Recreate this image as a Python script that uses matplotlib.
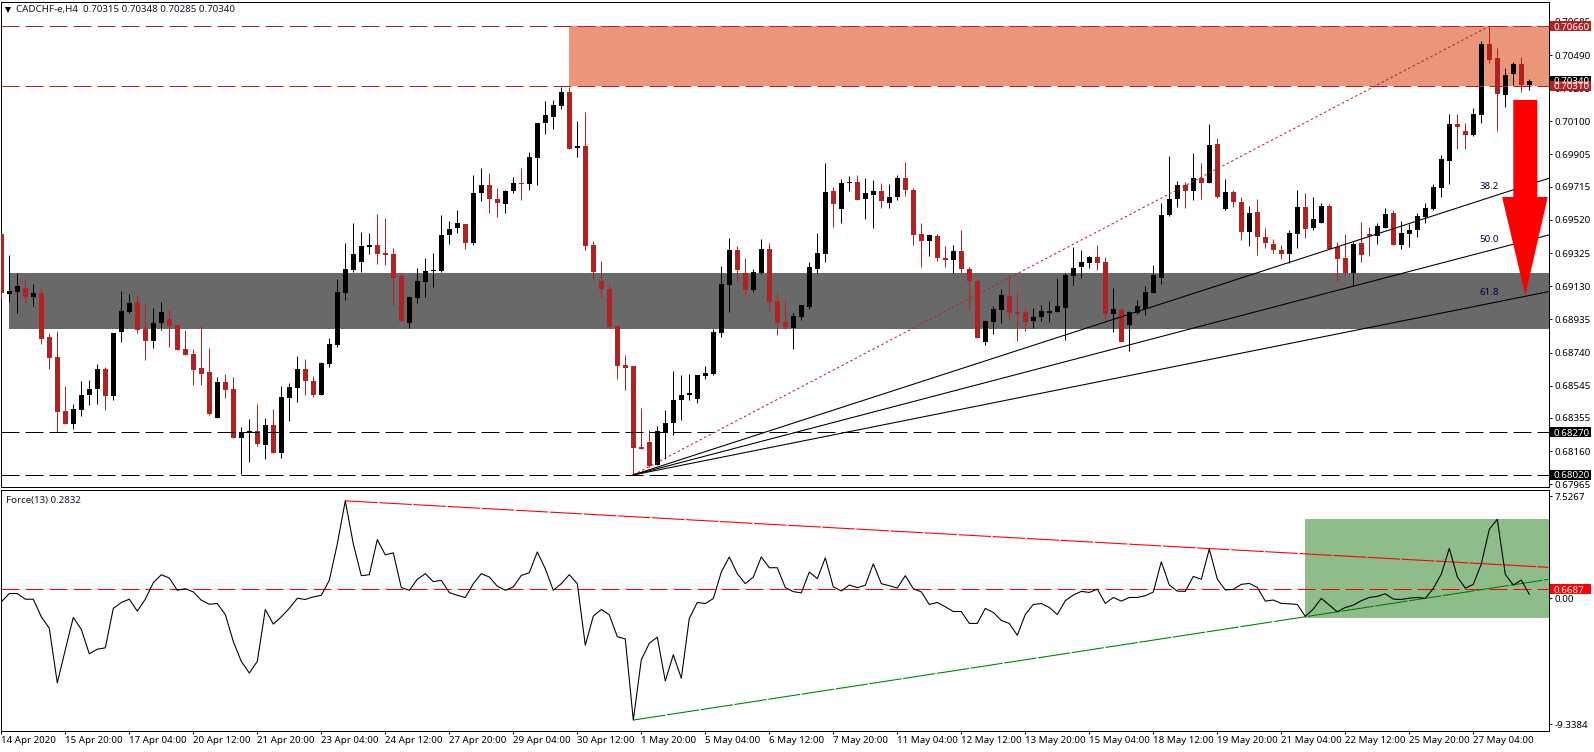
import numpy as np
import matplotlib
matplotlib.use("Agg")
import matplotlib.pyplot as plt
from matplotlib.patches import Rectangle

plt.rcParams['font.family'] = ['Noto Sans', 'DejaVu Sans']

# prices are written in points (1e-5), one entry per H4 bar
opens = [
    69438, 69087, 69098, 69120, 69069, 69091, 68832, 68714, 68397, 68322,
    68404, 68492, 68528, 68644, 68486, 68863, 68981, 69038, 68879, 68810,
    68916, 68938, 68902, 68761, 68732, 68649, 68626, 68357, 68567, 68526,
    68240, 68271, 68279, 68198, 68314, 68151, 68475, 68534, 68644, 68573,
    68492, 68675, 68787, 69092, 69228, 69275, 69363, 69373, 69326, 69320,
    69192, 68914, 69061, 69155, 69218, 69220, 69432, 69473, 69496, 69385,
    69679, 69726, 69644, 69614, 69691, 69738, 69732, 69885, 70091, 70126,
    70191, 70273, 69943, 69955, 69373, 69161, 69114, 68896, 68667, 68661,
    68185, 68214, 68079, 68269, 68326, 68461, 68491, 68467, 68602, 68614,
    68855, 69138, 69344, 69208, 69108, 69208, 69349, 69043, 68922, 68885,
    68949, 69008, 69232, 69320, 69691, 69585, 69738, 69743, 69644, 69667,
    69691, 69620, 69655, 69767, 69696, 69438, 69396, 69426, 69296, 69285,
    69338, 69232, 69161, 68802, 68920, 68991, 69073, 68979, 68979, 68926,
    68949, 68973, 68979, 69002, 69191, 69243, 69267, 69302, 69273, 68967,
    68991, 68902, 68973, 68996, 69091, 69181, 69549, 69644, 69726, 69691,
    69767, 69738, 69967, 69585, 69685, 69626, 69449, 69567, 69420, 69379,
    69344, 69320, 69438, 69596, 69473, 69502, 69602, 69361, 69296, 69208,
    69385, 69438, 69426, 69473, 69561, 69373, 69438, 69461, 69538, 69585,
    69708, 69867, 70085, 70043, 70020, 70138, 70555, 70473, 70255, 70379,
    70438, 70315,
]
highs = [
    69444, 69314, 69210, 69171, 69144, 69118, 68855, 68867, 68544, 68438,
    68573, 68579, 68673, 68655, 68855, 69102, 69085, 69079, 69026, 69002,
    69038, 68996, 68902, 68873, 68761, 68902, 68767, 68596, 68614, 68596,
    68302, 68349, 68438, 68355, 68408, 68544, 68561, 68720, 68702, 68602,
    68685, 68826, 69173, 69385, 69502, 69449, 69444, 69555, 69532, 69355,
    69206, 69073, 69238, 69296, 69326, 69549, 69514, 69579, 69496, 69785,
    69826, 69796, 69708, 69696, 69773, 69826, 69920, 70091, 70220, 70226,
    70302, 70302, 70102, 70155, 69396, 69279, 69144, 68902, 68726, 68661,
    68414, 68285, 68308, 68402, 68632, 68608, 68614, 68608, 68661, 68879,
    69249, 69414, 69367, 69296, 69232, 69408, 69385, 69096, 69049, 68973,
    69020, 69273, 69444, 69855, 69714, 69761, 69779, 69785, 69767, 69755,
    69738, 69732, 69785, 69861, 69708, 69502, 69438, 69438, 69367, 69373,
    69461, 69243, 69167, 68932, 69014, 69114, 69196, 69096, 69002, 69002,
    69020, 69043, 69179, 69208, 69361, 69344, 69308, 69373, 69302, 69120,
    69002, 68985, 69049, 69132, 69255, 69620, 69896, 69749, 69743, 69914,
    69855, 70085, 70002, 69761, 69696, 69655, 69602, 69644, 69473, 69408,
    69373, 69461, 69696, 69679, 69655, 69620, 69614, 69390, 69438, 69391,
    69508, 69479, 69502, 69591, 69579, 69514, 69496, 69561, 69620, 69732,
    69902, 70143, 70143, 70091, 70179, 70573, 70660, 70532, 70414, 70449,
    70479, 70348,
]
lows = [
    69063, 69039, 68975, 69034, 69016, 68792, 68645, 68271, 68322, 68292,
    68369, 68434, 68439, 68404, 68463, 68804, 68973, 68857, 68698, 68769,
    68875, 68775, 68757, 68728, 68551, 68551, 68375, 68357, 68475, 68240,
    68028, 68098, 68192, 68116, 68151, 68122, 68340, 68451, 68492, 68481,
    68492, 68657, 68775, 69051, 69216, 69216, 69322, 69263, 69257, 69016,
    68926, 68885, 69032, 69067, 69126, 69214, 69379, 69444, 69349, 69373,
    69632, 69561, 69538, 69561, 69679, 69638, 69696, 69726, 70026, 70055,
    70173, 69938, 69891, 69344, 69173, 69061, 68886, 68586, 68520, 68022,
    68173, 68069, 68079, 68114, 68255, 68344, 68461, 68444, 68585, 68608,
    68832, 68979, 69155, 69079, 69096, 69202, 68985, 68845, 68881, 68761,
    68932, 68996, 69202, 69273, 69479, 69502, 69691, 69638, 69526, 69473,
    69591, 69591, 69638, 69661, 69373, 69243, 69308, 69279, 69243, 69208,
    69208, 68996, 68826, 68785, 68849, 68914, 68932, 68808, 68867, 68885,
    68926, 68920, 68979, 68814, 69138, 69179, 69238, 69226, 68920, 68861,
    68802, 68751, 68967, 68961, 69091, 69144, 69543, 69596, 69591, 69638,
    69644, 69738, 69649, 69579, 69596, 69402, 69367, 69314, 69355, 69326,
    69291, 69267, 69355, 69414, 69461, 69502, 69349, 69155, 69191, 69138,
    69273, 69308, 69379, 69473, 69373, 69349, 69361, 69420, 69502, 69579,
    69655, 69732, 69938, 69938, 70014, 70091, 70443, 70043, 70185, 70314,
    70273, 70285,
]
closes = [
    69092, 69102, 69132, 69069, 69091, 68822, 68710, 68392, 68322, 68408,
    68491, 68526, 68644, 68486, 68855, 68985, 69032, 68875, 68810, 68914,
    68979, 68898, 68757, 68728, 68639, 68616, 68381, 68567, 68522, 68240,
    68273, 68279, 68204, 68314, 68151, 68479, 68538, 68644, 68575, 68492,
    68679, 68791, 69096, 69232, 69320, 69367, 69373, 69322, 69316, 69181,
    68926, 69067, 69161, 69220, 69226, 69432, 69467, 69502, 69385, 69679,
    69726, 69644, 69620, 69691, 69738, 69732, 69891, 70091, 70138, 70196,
    70273, 69938, 69955, 69367, 69214, 69114, 68892, 68663, 68649, 68181,
    68173, 68073, 68279, 68326, 68461, 68491, 68502, 68608, 68620, 68861,
    69144, 69344, 69226, 69108, 69214, 69349, 69038, 68916, 68891, 68955,
    69020, 69243, 69326, 69685, 69614, 69738, 69743, 69638, 69679, 69691,
    69632, 69655, 69767, 69696, 69432, 69396, 69432, 69296, 69285, 69338,
    69232, 69161, 68826, 68926, 68996, 69079, 68973, 68967, 68920, 68949,
    68985, 68985, 69014, 69196, 69238, 69273, 69302, 69267, 68967, 68996,
    68802, 68979, 69014, 69096, 69196, 69549, 69644, 69726, 69691, 69767,
    69738, 69961, 69655, 69685, 69626, 69449, 69561, 69420, 69385, 69344,
    69320, 69444, 69596, 69467, 69526, 69602, 69349, 69291, 69208, 69379,
    69314, 69426, 69485, 69555, 69373, 69444, 69461, 69543, 69591, 69714,
    69879, 70085, 70067, 70020, 70143, 70555, 70461, 70261, 70373, 70438,
    70314, 70340,
]

# Force(13) indicator, one value per bar
force = [
    -0.28, 0.34, 0.34, -0.08, -0.08, -1.38, -2.23, -6.27, -3.82, -1.43,
    -2.31, -4.12, -3.78, -3.68, -0.76, -0.32, -0.08, -0.96, -0.08, 1.14,
    1.73, 1.49, 0.58, 0.70, 0.46, -0.15, -0.45, -0.40, -1.21, -3.21,
    -4.68, -5.54, -4.68, -0.84, -1.92, -1.38, -0.76, -0.01, -0.10, 0.09,
    0.21, 1.32, 4.01, 7.20, 4.01, 1.66, 1.73, 4.33, 3.20, 3.35,
    0.78, 0.58, 1.39, 1.81, 1.22, 1.32, 0.41, 0.21, 0.04, 1.07,
    1.81, 1.56, 0.88, 0.58, 0.83, 1.68, 1.88, 3.42, 2.17, 0.58,
    1.07, 1.73, 1.07, -3.48, -1.33, -0.84, -1.23, -2.85, -3.02, -9.02,
    -4.56, -3.34, -2.89, -6.13, -4.19, -5.93, -1.50, -0.32, -0.40, -0.03,
    1.93, 3.05, 1.81, 1.07, 1.56, 3.05, 2.25, 2.25, 0.78, 0.48,
    0.39, 1.93, 1.44, 2.98, 0.83, 0.53, 0.97, 0.78, 0.95, 2.54,
    1.07, 0.92, 0.75, 1.66, 0.70, 0.46, -0.47, -0.32, -0.64, -0.99,
    -0.99, -1.87, -1.87, -0.76, -1.06, -1.65, -1.87, -2.75, -1.21, -0.47,
    -0.40, -0.69, -1.21, -0.19, 0.23, 0.50, 0.42, 0.67, -0.39, 0.05,
    -0.22, 0.05, 0.05, 0.18, 0.45, 2.69, 0.97, 0.52, 0.50, 1.61,
    1.39, 3.63, 1.41, 0.60, 0.65, 1.02, 1.09, 0.79, -0.22, -0.14,
    -0.39, -0.42, -0.47, -1.35, -0.81, -0.02, -0.52, -1.01, -0.69, -0.52,
    -0.19, 0.05, 0.13, 0.32, -0.07, -0.10, 0.00, 0.05, -0.02, 0.72,
    1.78, 3.68, 1.58, 0.74, 1.02, 2.52, 5.09, 5.83, 1.76, 0.97,
    1.34, 0.28,
]

time_labels = [
    "14 Apr 2020", "15 Apr 20:00", "17 Apr 04:00", "20 Apr 12:00", "21 Apr 20:00",
    "23 Apr 04:00", "24 Apr 12:00", "27 Apr 20:00", "29 Apr 04:00", "30 Apr 12:00",
    "1 May 20:00", "5 May 04:00", "6 May 12:00", "7 May 20:00", "11 May 04:00",
    "12 May 12:00", "13 May 20:00", "15 May 04:00", "18 May 12:00", "19 May 20:00",
    "21 May 04:00", "22 May 12:00", "25 May 20:00", "27 May 04:00",
]
price_ticks = [0.70685, 0.70490, 0.70295, 0.70100, 0.69905, 0.69715, 0.69520, 0.69325,
               0.69130, 0.68935, 0.68740, 0.68545, 0.68355, 0.68160, 0.67965]
force_ticks = [7.5267, 0.0, -9.3384]
force_tick_labels = ["7.5267", "0.00", "-9.3384"]

# drawn levels and zones
resist_hi, resist_lo = 0.7066, 0.7031
resist_bar = 71
support_hi, support_lo = 0.68270, 0.68020
grey_hi, grey_lo = 0.69210, 0.68881
grey_bar = 1
force_level = 0.6687
fan_bar0, fan_low = 79, 0.6802
fan_bar1, fan_high = 186, 0.7066
fib_levels = [38.2, 50.0, 61.8]
fib_label_prices = [0.69716, 0.69406, 0.69092]
red_trend_bars, red_trend_vals = [43, 193.4], [7.20, 2.28]
green_trend_bars, green_trend_vals = [79, 193.4], [-9.02, 1.39]
green_box_bar, green_box_hi, green_box_lo = 163, 5.85, -1.45
arrow_bars = [189, 192, 192, 193.3, 190.5, 187.6, 189, 189]
arrow_prices = [0.70226, 0.70226, 0.69655, 0.69655, 0.69077, 0.69655, 0.69655, 0.70226]

FIRE = '#B22222'
FS = 7.0
LW = 0.72  # one pixel at 100 dpi
W, H = 1594, 752
X_LEFT, X_RIGHT = -0.0375, 193.425


def px_axes(left, top, right, bottom):
    return fig.add_axes([left / W, 1 - bottom / H, (right - left) / W, (bottom - top) / H])


def side_tag(ax, value, text, color):
    # coloured price box on the right scale
    y0, y1 = ax.get_ylim()
    per_px = (y1 - y0) / (ax.get_position().height * H)
    w_px = ax.get_position().width * W
    tr = ax.get_yaxis_transform()
    ax.add_patch(Rectangle((1 + 1.5 / w_px, value - 5 * per_px), 41 / w_px, 10 * per_px, transform=tr,
                           facecolor=color, edgecolor='none', clip_on=False, zorder=20))
    ax.text(1 + 5 / w_px, value, text, transform=tr, color='white', fontsize=FS, va='center_baseline',
            ha='left', clip_on=False, zorder=21)


fig = plt.figure(figsize=(W / 100, H / 100), dpi=100, facecolor='white')
ax = px_axes(1, 1.5, 1548.7, 487)
ax2 = px_axes(1, 490, 1548.7, 731)

opens = np.array(opens) / 1e5
highs = np.array(highs) / 1e5
lows = np.array(lows) / 1e5
closes = np.array(closes) / 1e5
bars = np.arange(len(opens))
up = closes >= opens
colors = np.where(up, 'black', FIRE)

# zones sit behind the candles
ax.add_patch(Rectangle((resist_bar, resist_lo), X_RIGHT, resist_hi - resist_lo, facecolor='#E9967A',
                       edgecolor='none', zorder=1))
ax.add_patch(Rectangle((grey_bar, grey_lo), X_RIGHT, grey_hi - grey_lo, facecolor='#696969', edgecolor='none',
                       zorder=1))

ax.vlines(bars, lows, highs, colors=colors, linewidth=LW, zorder=3)
ax.bar(bars, np.abs(closes - opens), bottom=np.minimum(opens, closes), width=0.625, color=colors,
       linewidth=0, zorder=3)

dash = (0, (18, 6))
for lvl in (resist_hi, resist_lo):
    ax.axhline(lvl, color=FIRE, linewidth=LW, linestyle=dash, zorder=4)
for lvl in (support_hi, support_lo):
    ax.axhline(lvl, color='black', linewidth=LW, linestyle=dash, zorder=4)

# fibonacci fan from the May low to the late May high
ax.plot([fan_bar0, fan_bar1], [fan_low, fan_high], color=FIRE, linewidth=LW, linestyle=(0, (2.5, 2.5)), zorder=4)
fan_range = fan_high - fan_low
for lvl, lab_price in zip(fib_levels, fib_label_prices):
    level_price = fan_high - lvl / 100 * fan_range
    slope = (level_price - fan_low) / (fan_bar1 - fan_bar0)
    ax.plot([fan_bar0, X_RIGHT], [fan_low, fan_low + slope * (X_RIGHT - fan_bar0)], color='black',
            linewidth=0.78, zorder=4)
    ax.text(fan_bar1, lab_price, f"{lvl:.1f}", color='#000033', fontsize=FS, ha='center', va='center', zorder=6)

ax.fill(arrow_bars, arrow_prices, color='#FF0000', linewidth=0, zorder=5)

ax.set_xlim(X_LEFT, X_RIGHT)
ax.set_ylim(0.67949, 0.70805)
ax.set_xticks([])
ax.yaxis.tick_right()
ax.set_yticks(price_ticks)
ax.set_yticklabels([f"{t:.5f}" for t in price_ticks])
ax.tick_params(axis='y', length=2.5, width=LW, pad=2, labelsize=FS, colors='black')

side_tag(ax, 0.70340, "0.70340", 'black')
side_tag(ax, resist_hi, "0.70660", FIRE)
side_tag(ax, resist_lo, "0.70310", FIRE)
side_tag(ax, support_hi, "0.68270", 'black')
side_tag(ax, support_lo, "0.68020", 'black')

# chart header
ax.plot([0.0042], [0.9835], marker='v', markersize=4.5, color='black', markeredgewidth=0, transform=ax.transAxes)
ax.text(0.0099, 0.9835, "CADCHF-e,H4  0.70315 0.70348 0.70285 0.70340", transform=ax.transAxes, fontsize=FS,
        color='#101828', ha='left', va='center')

# force pane
ax2.add_patch(Rectangle((green_box_bar, green_box_lo), X_RIGHT - green_box_bar, green_box_hi - green_box_lo,
                        facecolor='#8FBC8B', edgecolor='none', zorder=1))
ax2.axhline(force_level, color='#FF0000', linewidth=LW, linestyle=dash, zorder=2)
ax2.plot(red_trend_bars, red_trend_vals, color='#FF0000', linewidth=0.78, linestyle=(0, (30, 1.5)), zorder=2)
ax2.plot(green_trend_bars, green_trend_vals, color='#008000', linewidth=0.78, linestyle=(0, (30, 1.5)), zorder=2)
ax2.plot(bars, force, color='black', linewidth=0.78, zorder=3)
ax2.set_xlim(X_LEFT, X_RIGHT)
ax2.set_ylim(-9.83, 8.0)
ax2.yaxis.tick_right()
ax2.set_yticks(force_ticks)
ax2.set_yticklabels(force_tick_labels)
ax2.set_xticks(np.arange(len(time_labels)) * 8)
ax2.set_xticklabels(time_labels, ha='left')
ax2.tick_params(axis='y', length=2.5, width=LW, pad=2, labelsize=FS)
ax2.tick_params(axis='x', length=2.2, width=LW, pad=1.5, labelsize=FS)
side_tag(ax2, force_level, "0.6687", '#FF0000')
ax2.text(0.0033, 0.958, "Force(13) 0.2832", transform=ax2.transAxes, fontsize=FS, color='#101828', ha='left',
         va='center')

for a in (ax, ax2):
    for s in a.spines.values():
        s.set_linewidth(LW)

fig.savefig('out.png', dpi=100)
